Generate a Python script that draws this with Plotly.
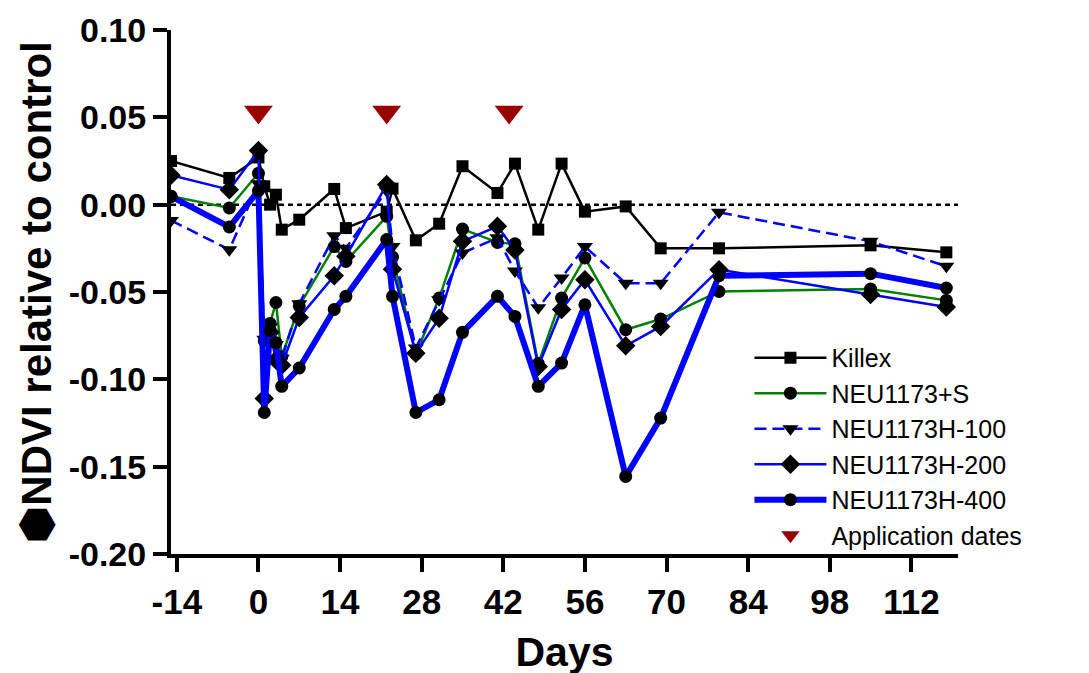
import plotly.graph_objects as go

days = [-15, -5, 0, 1, 2, 3, 4, 7, 13, 15, 22, 23, 27, 31, 35, 41, 44, 48, 52, 56, 63, 69, 79, 105, 118]

killex = [0.025, 0.0153, 0.027, 0.0105, 0.0, 0.0057, -0.0143, -0.0086, 0.009, -0.0134, -0.004, 0.0092,
          -0.0204, -0.0109, 0.022, 0.0067, 0.0235, -0.0143, 0.0235, -0.004, -0.001, -0.025, -0.025,
          -0.0233, -0.0273]
neu_s = [0.0048, -0.0019, 0.018, -0.078, -0.068, -0.056, -0.087, -0.058, -0.024, -0.0325, -0.0067, -0.03,
         -0.0854, -0.0535, -0.014, -0.0216, -0.0224, -0.091, -0.0535, -0.0305, -0.0716, -0.0655, -0.0497,
         -0.0483, -0.0548]
neu_h100 = [-0.009, -0.0258, 0.012, -0.077, -0.07, -0.08, -0.088, -0.0567, -0.0178, -0.0249, 0.008, -0.024,
            -0.082, -0.0544, -0.0277, -0.019, -0.038, -0.059, -0.042, -0.024, -0.045, -0.045, -0.0044,
            -0.021, -0.0353]
neu_h200 = [0.0168, 0.0086, 0.031, -0.111, -0.073, -0.089, -0.092, -0.0646, -0.0407, -0.0296, 0.0115, -0.037,
            -0.085, -0.065, -0.021, -0.0124, -0.026, -0.0926, -0.06, -0.043, -0.0808, -0.0697, -0.0372,
            -0.0515, -0.0586]
neu_h400 = [0.0048, -0.0128, 0.008, -0.119, -0.072, -0.079, -0.104, -0.0935, -0.06, -0.0525, -0.02, -0.0525,
            -0.119, -0.1117, -0.0731, -0.0525, -0.064, -0.104, -0.0907, -0.0573, -0.1556, -0.1222, -0.0407,
            -0.0395, -0.0477]

app_days = [0, 22, 43]
app_level = [0.053, 0.053, 0.053]

x_ticks = [-14, 0, 14, 28, 42, 56, 70, 84, 98, 112]
x_ticktext = ["-14", "0", "14", "28", "42", "56", "70", "84", "98", "112"]
y_ticks = [0.10, 0.05, 0.0, -0.05, -0.10, -0.15, -0.20]
y_ticktext = ["0.10", "0.05", "0.00", "-0.05", "-0.10", "-0.15", "-0.20"]

BOLD = dict(family="Liberation Sans, Arial", color="black", weight="bold")

fig = go.Figure()

series = [
    ("Killex", killex, "black", 2.5, "solid", "square", 12),
    ("NEU1173+S", neu_s, "#008000", 2.5, "solid", "circle", 13),
    ("NEU1173H-100", neu_h100, "#0000ff", 2.5, "12px,6px", "triangle-down", 14),
    ("NEU1173H-200", neu_h200, "#0000ff", 2.5, "solid", "diamond", 15),
    ("NEU1173H-400", neu_h400, "#0000ff", 6, "solid", "circle", 13),
]
for name, vals, col, w, dash, sym, ms in series:
    fig.add_trace(go.Scatter(
        x=days, y=vals, name=name, mode="lines+markers",
        line=dict(color=col, width=w, dash=dash),
        marker=dict(symbol=sym, size=ms, color="black", line=dict(width=0)),
    ))

fig.add_trace(go.Scatter(
    x=app_days, y=app_level, name="Application dates", mode="markers",
    marker=dict(symbol="triangle-down", size=25, color="#990000", line=dict(width=0)),
))

fig.add_shape(type="line", xref="paper", yref="y", x0=0, x1=1, y0=0, y1=0,
              line=dict(color="black", width=2.5, dash="5px,4px"), layer="below")

fig.update_layout(
    width=1089, height=673,
    margin=dict(l=163, r=139, t=22, b=127),
    paper_bgcolor="white", plot_bgcolor="white",
    showlegend=True,
    legend=dict(x=0.735, y=0.418, xanchor="left", yanchor="top",
                font=dict(family="Liberation Sans, Arial", size=25, color="black"),
                itemwidth=72, bgcolor="rgba(0,0,0,0)", tracegroupgap=0),
    xaxis=dict(range=[-15, 120], tickvals=x_ticks, ticktext=x_ticktext, automargin=False,
               showline=True, linewidth=4, linecolor="black", ticks="outside",
               ticklen=14, tickwidth=4, tickcolor="black", showgrid=False, zeroline=False,
               tickfont=dict(size=35, **BOLD),
               title=dict(text="Days", font=dict(size=41, **BOLD), standoff=18)),
    yaxis=dict(range=[-0.20, 0.10], tickvals=y_ticks, ticktext=y_ticktext, automargin=False,
               showline=True, linewidth=4, linecolor="black", ticks="outside",
               ticklen=14, tickwidth=4, tickcolor="black", showgrid=False, zeroline=False,
               tickfont=dict(size=34, **BOLD),
               title=dict(text="⬢NDVI relative to control", font=dict(size=42, **BOLD), standoff=5)),
)

fig.write_html("out.html")
